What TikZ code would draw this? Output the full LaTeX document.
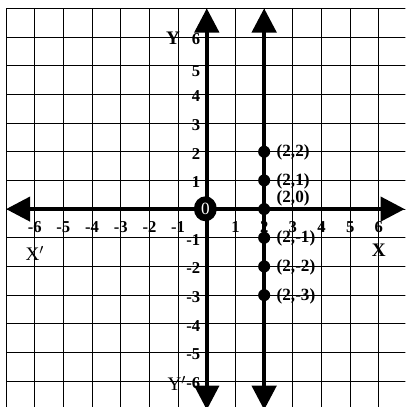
\documentclass[tikz,border=0pt]{standalone}
\usepackage{fontspec}
\setmainfont{Liberation Serif}
\usetikzlibrary{arrows.meta,shapes.geometric}

\begin{document}
\begin{tikzpicture}[
    gridline/.style={black, line width=0.8pt},
    axisline/.style={black, line width=4pt, {Triangle[length=24pt,width=24pt]}-{Triangle[length=24pt,width=24pt]}},
    ticklabel/.style={inner sep=0pt, font=\fontsize{16.5}{18}\selectfont\bfseries},
    pointlabel/.style={inner sep=0pt, anchor=west, font=\fontsize{17}{19}\selectfont\bfseries},
    axisname/.style={inner sep=0pt, font=\fontsize{19}{21}\selectfont},
    dot/.style={circle, fill=black, minimum size=0.42cm, inner sep=0pt}
  ]
    % page size of the reference, grid runs past the right and bottom edges
    \useasboundingbox (-7.21,-6.90) rectangle (6.92,7.29);
    \clip (-7.21,-6.90) rectangle (6.92,7.29);

    % square grid
    \draw[gridline] (-7,-7) grid (7,7);

    % axes and the line x = 2
    \coordinate (xl) at (-7,0);
    \coordinate (xr) at (6.9,0);
    \coordinate (yb) at (0,-7);
    \coordinate (yt) at (0,7);
    \coordinate (lb) at (2,-7);
    \coordinate (lt) at (2,7);
    \draw[axisline] (xl) -- (xr);
    \draw[axisline] (yb) -- (yt);
    \draw[axisline] (lb) -- (lt);

    % origin
    \node[ellipse, fill=black, text=white, minimum width=0.8cm, minimum height=0.87cm,
          inner sep=0pt, font=\fontsize{17}{19}\selectfont] (o) at (-0.05,0.01) {0};

    % numbers on the axes
    \foreach \i in {-6,-5,-4,-3,-2,-1,1,2,3,4,5,6} {
      \node[ticklabel] (xt\i) at (\i,-0.64) {\i};
    }
    \foreach \i in {-6,-5,-4,-3,-2,-1,1,2,3,4,6} {
      \node[ticklabel, anchor=east] (yt\i) at (-0.22,\i-0.07) {\i};
    }
    \node[ticklabel, anchor=east] (yt5) at (-0.22,4.8) {5};

    % axis names
    \node[axisname, font=\fontsize{19}{21}\selectfont\bfseries] (ylab) at (-1.18,5.95) {Y};
    \node[axisname] (yplab) at (-1.05,-6.08) {Y$'$};
    \node[axisname] (xplab) at (-6,-1.54) {X$'$};
    \node[axisname, font=\fontsize{19}{21}\selectfont\bfseries] (xlab) at (6,-1.45) {X};

    % points on x = 2
    \foreach \k in {2,1,0,-1,-2,-3} {
      \node[dot] (p\k) at (2,\k) {};
    }
    \node[pointlabel] (l2) at (2.43,1.96) {(2,2)};
    \node[pointlabel] (l1) at (2.43,0.96) {(2,1)};
    \node[pointlabel] (l0) at (2.43,0.37) {(2,0)};
    \node[pointlabel] (lm1) at (2.43,-1.03) {(2,-1)};
    \node[pointlabel] (lm2) at (2.43,-2.03) {(2,-2)};
    \node[pointlabel] (lm3) at (2.43,-3.03) {(2,-3)};
  \end{tikzpicture}
\end{document}
